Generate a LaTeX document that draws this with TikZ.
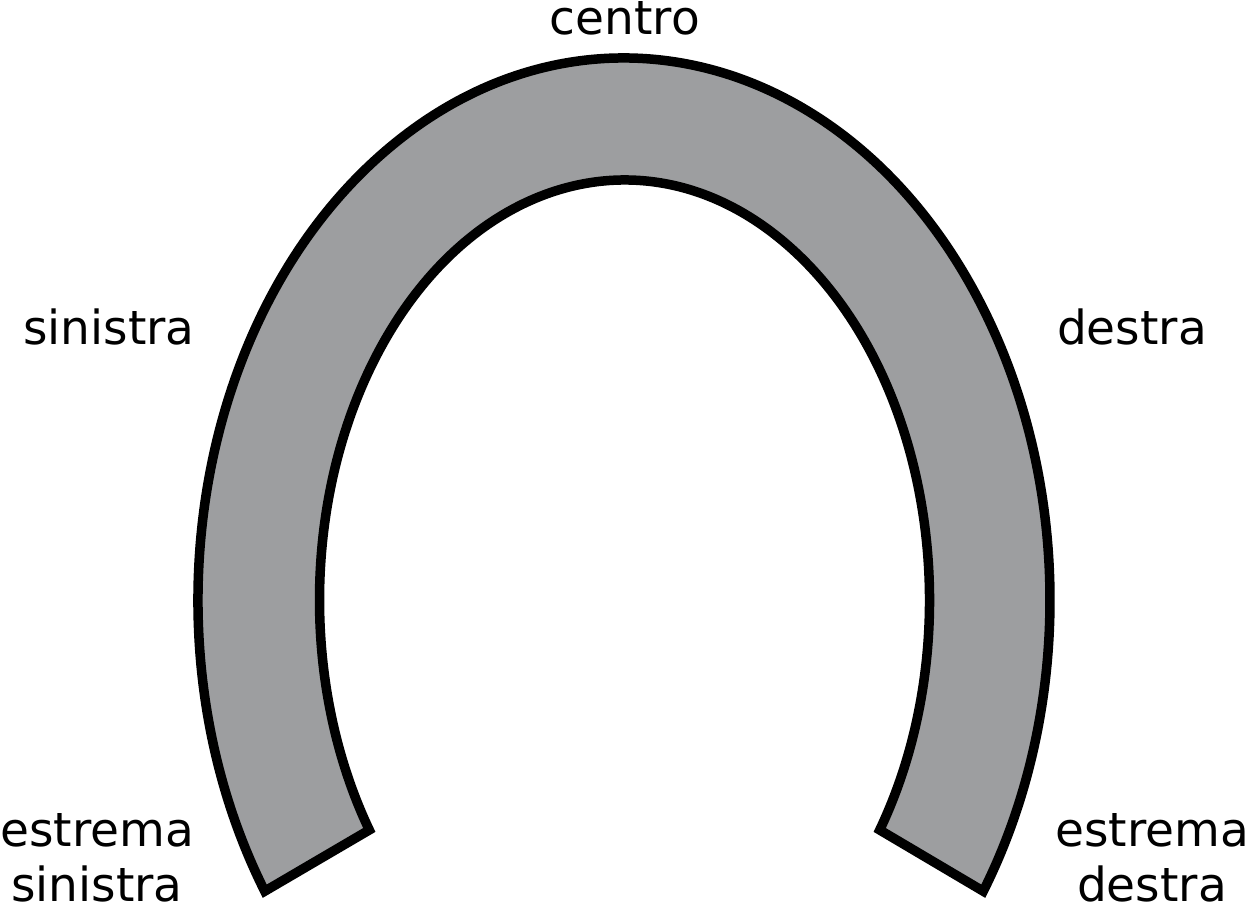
\documentclass[tikz,border=0pt]{standalone}
\usepackage{fontspec}
\setmainfont{DejaVu Sans}
\definecolor{shoegray}{RGB}{157,158,160}
\begin{document}
\begin{tikzpicture}[x=1pt,y=1pt,
  lbl/.style={inner sep=0pt, anchor=base, font=\fontsize{47}{55}\selectfont, align=center},
  shoe/.style={fill=shoegray, draw=black, line width=9.5pt, line join=miter}]
\useasboundingbox (0,0) rectangle (1249,908);
\coordinate (oc) at (624,308);
\coordinate (ic) at (624.5,308);
\coordinate (ol) at ([shift={(212.5:426pt and 542pt)}]oc);
\coordinate (ir) at ([shift={(-33.2:305pt and 420pt)}]ic);
\draw[shoe] (ol) arc[start angle=212.5, end angle=-32.5, x radius=426pt, y radius=542pt]
  -- (ir) arc[start angle=-33.2, end angle=213.2, x radius=305pt, y radius=420pt] -- cycle;
\node[lbl] (centro) at (625,873) {centro};
\node[lbl] (sin) at (109,563) {sinistra};
\node[lbl] (des) at (1132,563) {destra};
\node[lbl] (esin) at (97,7) {estrema\\sinistra};
\node[lbl] (edes) at (1152,7) {estrema\\destra};
\end{tikzpicture}
\end{document}
